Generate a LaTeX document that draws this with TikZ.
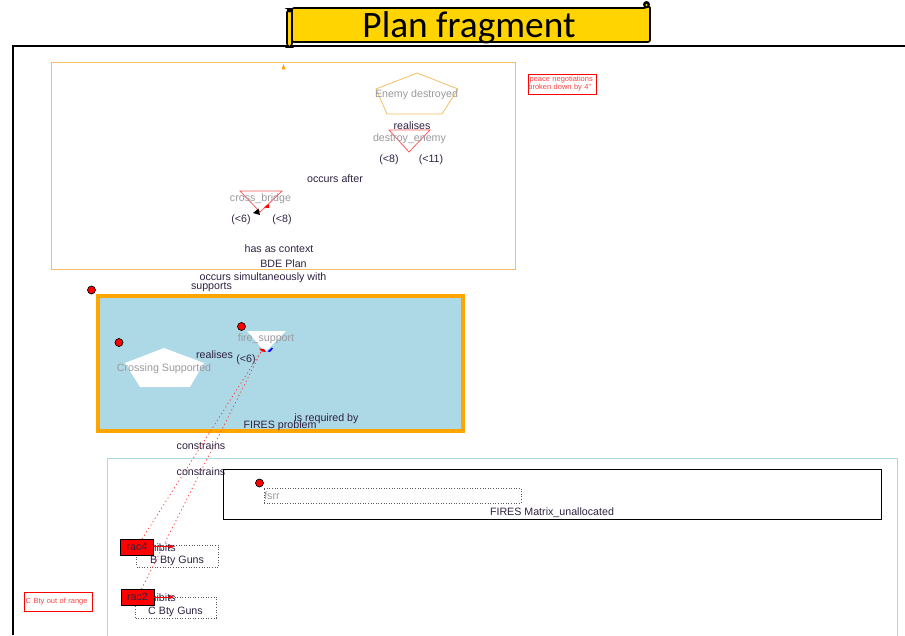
\documentclass[tikz,border=0pt]{standalone}
\usepackage{fontspec}
\setmainfont{Liberation Sans}
\newfontfamily\titlefont{Carlito}
\usetikzlibrary{arrows.meta,shapes.geometric}
\definecolor{ink}{HTML}{2E2140}
\definecolor{ghost}{HTML}{9A9A9E}
\definecolor{planorange}{HTML}{F5BE62}
\definecolor{probblue}{HTML}{ADD8E6}
\definecolor{probedge}{HTML}{FFA500}
\definecolor{scrollgold}{HTML}{FFD400}
\tikzset{
  lab/.style={font=\fontsize{8}{9}\selectfont,text=ink,inner sep=0pt,yshift=-0.75pt},
  ghostlab/.style={font=\fontsize{8}{9}\selectfont,text=ghost,inner sep=0pt,yshift=-0.75pt},
  notebox/.style={draw=red,line width=0.6pt,font=\fontsize{5.6}{6.8}\selectfont,text=red!75!white,inner sep=0pt,align=left,anchor=north west},
  plainbox/.style={anchor=north west,inner sep=0pt,outer sep=0pt},
  dotbox/.style={plainbox,draw=black!65,dash pattern=on 0.75pt off 1.2pt,line width=0.6pt},
  racbox/.style={plainbox,fill=red,draw=black,line width=0.7pt,minimum width=24.75pt,minimum height=12pt,font=\fontsize{8}{9}\selectfont,text=ink},
  dotmark/.style={circle,fill=red,draw=black,line width=0.5pt,minimum size=6pt,inner sep=0pt},
  reddot/.style={red!75!white,dash pattern=on 0.9pt off 2.1pt,line width=0.6pt},
  tinyarrow/.style={-{Latex[length=4pt,width=3.6pt]},line width=0.6pt},
  outline/.style={line width=0.6pt,line join=miter}
}
\begin{document}
\begin{tikzpicture}[x=0.75pt,y=-0.75pt]
\useasboundingbox (0,0) rectangle (905,635);
% page frame
\draw[black,line width=1.4pt] (13,635) -- (13,46) -- (905,46);
% scroll
\fill[scrollgold,draw=black,line width=1.2pt,rounded corners=1.5pt] (292,8) -- (646,8) -- (650,6) -- (650,42) -- (292,42) -- cycle;
\fill[black] (646.5,4.5) circle (3.5);
\fill[scrollgold] (646.5,5) circle (1.2);
\fill[scrollgold,draw=black,line width=1.2pt,rounded corners=2.5pt] (287,9) rectangle (292,47);
\fill[black] (289.5,10.5) circle (2);
\node[inner sep=0pt,font=\titlefont\fontsize{28}{30}\selectfont,text=black] (title) at (469,27.5) {Plan fragment};
% BDE plan
\node[plainbox,draw=planorange,line width=0.6pt,minimum width=348.5pt,minimum height=155.25pt] (bde) at (51,62) {};
\fill[probedge] (283.5,64) -- (285.5,69.5) -- (281.5,69.5) -- cycle;
\draw[outline,draw=planorange] (417,73) -- (458,89) -- (442,114) -- (387,114) -- (376,89) -- cycle;
\node[ghostlab] (enemyl) at (416.5,94) {Enemy destroyed};
\draw[outline,draw=red!65!white] (389,130) -- (430,130) -- (409,152) -- cycle;
\node[lab] (realises1) at (412,124.5) {realises};
\node[ghostlab] (destroyl) at (409.5,137.5) {destroy\_enemy};
\node[lab] (a8) at (389,158.5) {(<8)};
\node[lab] (a11) at (431,158.5) {(<11)};
\node[lab] (after) at (335,178) {occurs after};
\draw[outline,draw=red!65!white] (240,191) -- (282,191) -- (260,212) -- cycle;
\node[ghostlab] (crossl) at (260.5,198) {cross\_bridge};
\node[lab] (c6) at (241,219) {(<6)};
\node[lab] (c8) at (282,219) {(<8)};
\fill[black] (253,213) -- (258.5,208.5) -- (260,215) -- cycle;
\fill[red] (264,207.5) -- (269,204) -- (269,208) -- cycle;
\node[lab] (ctx) at (279,248) {has as context};
\node[lab] (bdel) at (283.5,262.5) {BDE Plan};
\node[lab] (sim) at (263,276.5) {occurs simultaneously with};
\node[lab] (supp) at (211.5,286.5) {supports};
\node[dotmark] (m1) at (91.5,290) {};
% FIRES problem
\node[plainbox,fill=probblue,draw=probedge,line width=3pt,minimum width=273.5pt,minimum height=101.25pt] (fires) at (98,296) {};
\node[dotmark] (m2) at (119,342.5) {};
\node[dotmark] (m3) at (241.5,326.5) {};
\fill[white] (164,348) -- (204,363) -- (190,387) -- (140,387) -- (125,363) -- cycle;
\node[ghostlab] (crossingl) at (164,368) {Crossing Supported};
\fill[white] (247,331) -- (286,331) -- (265,352) -- cycle;
\node[ghostlab] (firel) at (266,337.5) {fire\_support};
\node[lab] (realises2) at (214.5,354) {realises};
\node[lab] (f6) at (246,359) {(<6)};
\node[lab] (req) at (326.5,417.5) {is required by};
\node[lab] (firesl) at (280,424.5) {FIRES problem};
\coordinate (firetip) at (262,350);
\fill[red] (259,348.5) -- (264,349) -- (266,352) -- (262,351.5) -- cycle;
\fill[blue] (267.5,351.5) -- (272,347.5) -- (273,348.5) -- (270,352) -- cycle;
% lower
\node[lab] (con1) at (201,445) {constrains};
\node[plainbox,draw=probblue,line width=0.7pt,minimum width=592.5pt,minimum height=190pt] (alloc) at (107,458) {};
\node[lab] (con2) at (201,470.5) {constrains};
\node[plainbox,draw=black,line width=0.7pt,minimum width=493.5pt,minimum height=37.5pt] (matrix) at (223,469) {};
\node[dotmark] (m4) at (259.5,483) {};
\node[dotbox,minimum width=192.75pt,minimum height=11.25pt] (fsrr) at (264,488) {};
\node[ghostlab,anchor=west] (fsrrl) at (264,494.5) {fsrr};
\node[lab] (matl) at (552,512) {FIRES Matrix\_unallocated};
% guns
\node[dotbox,minimum width=61.5pt,minimum height=16.5pt] (bguns) at (136.5,545) {};
\node[dotbox,minimum width=60.75pt,minimum height=15.75pt] (cguns) at (135.5,597) {};
\node[lab] (bl) at (177,559.5) {B Bty Guns};
\node[lab] (cl2) at (175.5,611) {C Bty Guns};
\node[lab] (inh1) at (159,547) {inhibits};
\node[lab] (inh2) at (159,597) {inhibits};
\node[racbox] (rac4) at (120.5,539) {rac4};
\node[racbox] (rac2) at (121,589) {rac2};
\coordinate (b4) at (174.5,546.5);
\coordinate (b2) at (174.5,597);
\draw[tinyarrow,red] (rac4.east |- b4) -- (b4);
\draw[tinyarrow,red] (rac2.east |- b2) -- (b2);
\draw[reddot] ([xshift=3.75pt]rac4.north) -- (firetip);
\draw[reddot] ([xshift=3pt]rac2.north) -- (firetip);
% notes
\node[notebox,minimum width=51pt,minimum height=15pt,text width=51pt] (n1) at (528,73.5) {\,peace negotiations\\[-0.6pt]broken down by 4"};
\node[notebox,minimum width=51pt,minimum height=14.5pt,text width=51pt,anchor=north west] (n2) at (24,592) {\raisebox{2pt}{\,C Bty out of range}};
\end{tikzpicture}
\end{document}
